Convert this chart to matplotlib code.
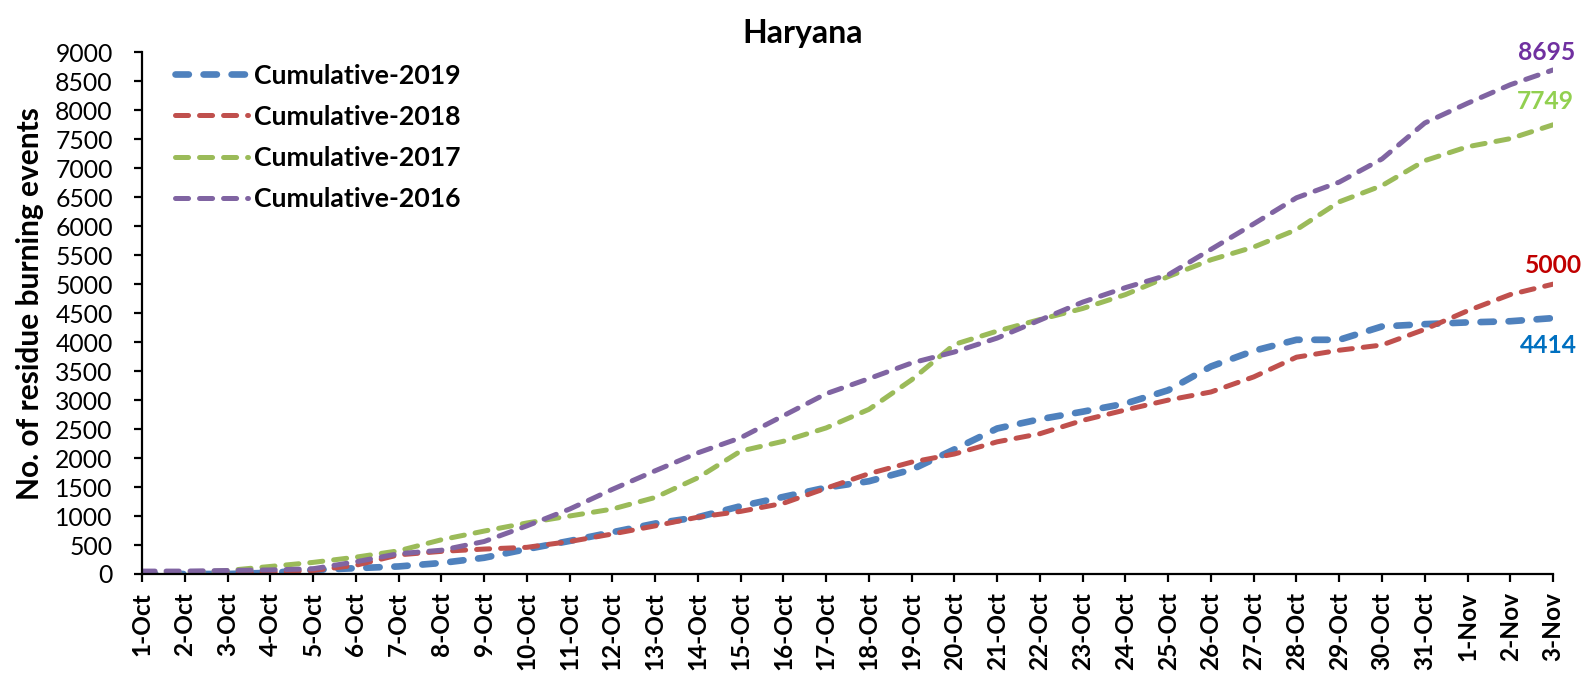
import numpy as np
import matplotlib
matplotlib.use("Agg")
import matplotlib.pyplot as plt

plt.rcParams['font.family'] = ['Lato', 'DejaVu Sans']
plt.rcParams['lines.scale_dashes'] = False

# dates on the x axis
dates = ['1-Oct', '2-Oct', '3-Oct', '4-Oct', '5-Oct', '6-Oct', '7-Oct', '8-Oct', '9-Oct',
         '10-Oct', '11-Oct', '12-Oct', '13-Oct', '14-Oct', '15-Oct', '16-Oct', '17-Oct',
         '18-Oct', '19-Oct', '20-Oct', '21-Oct', '22-Oct', '23-Oct', '24-Oct', '25-Oct',
         '26-Oct', '27-Oct', '28-Oct', '29-Oct', '30-Oct', '31-Oct', '1-Nov', '2-Nov', '3-Nov']

# cumulative residue burning events
cum_2019 = [0, 0, 0, 20, 70, 100, 130, 190, 280, 430, 570, 720, 870, 980, 1170, 1330, 1490,
            1600, 1800, 2150, 2510, 2670, 2800, 2940, 3170, 3580, 3850, 4040, 4040, 4270,
            4310, 4340, 4360, 4414]
cum_2018 = [0, 0, 10, 30, 60, 150, 330, 390, 430, 460, 560, 690, 830, 980, 1080, 1220, 1480,
            1730, 1930, 2070, 2280, 2420, 2650, 2830, 3000, 3140, 3400, 3740, 3860, 3950,
            4220, 4540, 4820, 5000]
cum_2017 = [0, 20, 60, 130, 200, 290, 400, 590, 740, 880, 1000, 1120, 1320, 1660, 2120, 2290,
            2520, 2840, 3350, 3960, 4190, 4390, 4580, 4820, 5130, 5420, 5640, 5940, 6420,
            6700, 7130, 7370, 7510, 7749]
cum_2016 = [50, 50, 60, 70, 90, 210, 350, 410, 560, 830, 1120, 1460, 1780, 2090, 2350, 2730,
            3110, 3370, 3640, 3830, 4070, 4380, 4690, 4940, 5160, 5600, 6040, 6490, 6760,
            7160, 7780, 8120, 8440, 8695]

x = np.arange(len(dates))

fig = plt.figure(figsize=(15.94, 6.96), dpi=100)
ax = fig.add_axes([0.0891, 0.1753, 0.8852, 0.7496])

ax.plot(x, cum_2019, color='#4F81BD', linewidth=4.8, dashes=(9.6, 10.6),
        dash_capstyle='round', label='Cumulative-2019')
ax.plot(x, cum_2018, color='#C0504D', linewidth=3.6, dashes=(9.4, 7.9),
        dash_capstyle='round', label='Cumulative-2018')
ax.plot(x, cum_2017, color='#9BBB59', linewidth=3.6, dashes=(9.4, 7.9),
        dash_capstyle='round', label='Cumulative-2017')
ax.plot(x, cum_2016, color='#8064A2', linewidth=3.6, dashes=(9.4, 7.9),
        dash_capstyle='round', label='Cumulative-2016')

# end value labels
end_font = dict(ha='center', va='center', fontsize=17.7, fontweight='bold',
                textcoords='offset points')
ax.annotate(str(cum_2016[-1]), (x[-1], cum_2016[-1]), xytext=(-4.7, 12.5), color='#7030A0', **end_font)
ax.annotate(str(cum_2017[-1]), (x[-1], cum_2017[-1]), xytext=(-5.4, 16.5), color='#92D050', **end_font)
ax.annotate(str(cum_2018[-1]), (x[-1], cum_2018[-1]), xytext=(0, 13.7), color='#C00000', **end_font)
ax.annotate(str(cum_2019[-1]), (x[-1], cum_2019[-1]), xytext=(-3.2, -19.4), color='#0070C0', **end_font)

ax.set_xlim(0, len(dates) - 1)
ax.set_ylim(0, 9000)
ax.set_yticks(np.arange(0, 9001, 500))
ax.set_xticks(x)
ax.set_xticklabels(dates, rotation=90, fontsize=17.6, fontweight='bold')
ax.tick_params(axis='y', labelsize=17.8, length=6, width=1.6, pad=15, direction='out')
ax.tick_params(axis='x', length=6, width=1.6, pad=7, direction='out')

ax.spines['top'].set_visible(False)
ax.spines['right'].set_visible(False)
ax.spines['left'].set_linewidth(1.6)
ax.spines['bottom'].set_linewidth(1.6)

ax.set_ylabel('No. of residue burning events', fontsize=21.5, fontweight='bold', va='center')
ax.yaxis.set_label_coords(-0.0794, 0.518)
fig.text(0.5034, 0.9378, 'Haryana', ha='center', va='baseline', fontsize=23, fontweight='bold')

ax.legend(loc='upper left', bbox_to_anchor=(0.0234, 0.978), frameon=False,
          handlelength=2.75, handletextpad=0.2, labelspacing=0.64,
          borderaxespad=0, borderpad=0, prop={'weight': 'bold', 'size': 19.2})

plt.savefig('out.png', dpi=100)
